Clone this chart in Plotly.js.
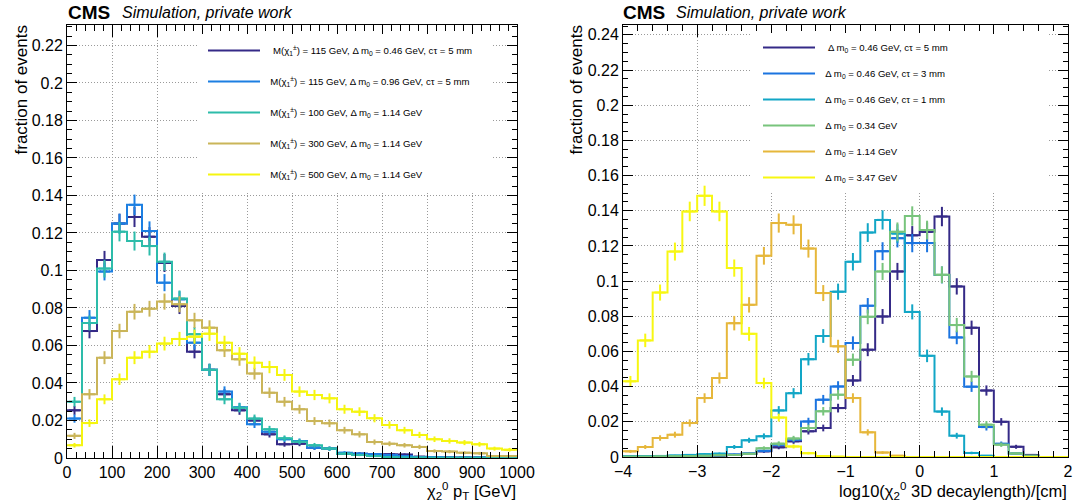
<!DOCTYPE html>
<html><head><meta charset="utf-8">
<script src="https://cdn.plot.ly/plotly-3.0.1.min.js"></script>
<style>html,body{margin:0;padding:0;background:#fff}#chart{width:1083px;height:504px}</style>
</head><body><div id="chart"></div>
<script>
// ---------- data: left panel (chi2^0 pT, 30 bins 0-1000 GeV) ----------
const ptMin = 0, ptMax = 1000, ptBins = 30;
const ptLabels = [
  "\u00a0\u00a0\u00a0M(χ<sub>1</sub><sup>±</sup>) = 115 GeV, Δ m<sub>0</sub> = 0.46 GeV, cτ = 5 mm",
  "\u00a0\u00a0M(χ<sub>1</sub><sup>±</sup>) = 115 GeV, Δ m<sub>0</sub> = 0.96 GeV, cτ = 5 mm",
  "\u00a0\u00a0M(χ<sub>1</sub><sup>±</sup>) = 100 GeV, Δ m<sub>0</sub> = 1.14 GeV",
  "\u00a0\u00a0M(χ<sub>1</sub><sup>±</sup>) = 300 GeV, Δ m<sub>0</sub> = 1.14 GeV",
  "\u00a0\u00a0M(χ<sub>1</sub><sup>±</sup>) = 500 GeV, Δ m<sub>0</sub> = 1.14 GeV"
];
const pt_m115_dm046 = [0.0254,0.0677,0.1056,0.125,0.1285,0.118,0.104,0.081,0.0567,0.047,0.034,0.0254,0.020,0.0126,0.0073,0.0076,0.0055,0.005,0.0023,0.0023,0.002,0.002,0.0018,0.0007,0.0004,0.0003,0.0002,0.0002,0.0001,0.0001];
const pt_m115_dm096 = [0.021,0.0748,0.0994,0.125,0.135,0.121,0.0935,0.0846,0.0615,0.047,0.0354,0.027,0.018,0.014,0.010,0.009,0.0055,0.005,0.0028,0.0023,0.002,0.0016,0.001,0.0005,0.0005,0.0003,0.0002,0.0002,0.0001,0.0001];
const pt_m100_dm114 = [0.030,0.072,0.101,0.1207,0.1157,0.113,0.1047,0.085,0.066,0.047,0.0313,0.0268,0.021,0.0153,0.0105,0.0087,0.0068,0.005,0.0023,0.0016,0.001,0.0005,0.0002,0.0002,0.0001,0.0001,0.0001,0.0001,0.0001,0.0001];
const pt_m300_dm114 = [0.0118,0.034,0.0535,0.0677,0.078,0.0796,0.0834,0.082,0.0734,0.0695,0.0574,0.0526,0.045,0.0348,0.030,0.026,0.0197,0.0185,0.0148,0.0126,0.0085,0.0076,0.0068,0.0059,0.0037,0.0034,0.0028,0.0025,0.001,0.001];
const pt_m500_dm114 = [0.0068,0.0186,0.0313,0.042,0.0535,0.0567,0.061,0.0635,0.0647,0.0663,0.0615,0.0556,0.0508,0.0485,0.0443,0.0354,0.0336,0.0318,0.026,0.0247,0.0212,0.0176,0.0148,0.0123,0.010,0.0091,0.0082,0.0073,0.005,0.0044];
const ptSeries = [pt_m115_dm046, pt_m115_dm096, pt_m100_dm114, pt_m300_dm114, pt_m500_dm114];

// ---------- data: right panel (log10 decay length, 30 bins -4..2) ----------
const dlMin = -4, dlMax = 2, dlBins = 30;
const dlLabels = [
  "\u00a0\u00a0\u00a0Δ m<sub>0</sub> = 0.46 GeV, cτ = 5 mm",
  "\u00a0\u00a0Δ m<sub>0</sub> = 0.46 GeV, cτ = 3 mm",
  "\u00a0\u00a0Δ m<sub>0</sub> = 0.46 GeV, cτ = 1 mm",
  "\u00a0\u00a0Δ m<sub>0</sub> = 0.34 GeV",
  "\u00a0\u00a0Δ m<sub>0</sub> = 1.14 GeV",
  "\u00a0\u00a0Δ m<sub>0</sub> = 3.47 GeV"
];
const dl_dm046_ct5 = [0.0002,0.0002,0.0003,0.0004,0.0005,0.0007,0.0008,0.0012,0.0018,0.0032,0.0055,0.0089,0.0146,0.0165,0.0278,0.0435,0.061,0.0799,0.1055,0.126,0.128,0.1367,0.097,0.0735,0.0378,0.020,0.0058,0.0012,0,0];
const dl_dm046_ct3 = [0.0002,0.0002,0.0003,0.0004,0.0006,0.0008,0.001,0.0014,0.002,0.0035,0.007,0.0098,0.0202,0.0326,0.0401,0.0648,0.086,0.117,0.1244,0.1216,0.1216,0.1035,0.068,0.040,0.017,0.0075,0.002,0.0006,0,0];
const dl_dm046_ct1 = [0.0004,0.0005,0.0006,0.0008,0.0012,0.0016,0.0019,0.0057,0.0095,0.0118,0.0265,0.0363,0.0556,0.0688,0.094,0.111,0.1276,0.1348,0.127,0.0825,0.0575,0.0258,0.0121,0.0023,0.0007,0,0,0,0,0];
const dl_dm034 = [0.0002,0.0002,0.0003,0.0004,0.0005,0.0007,0.001,0.0012,0.0018,0.005,0.0076,0.0105,0.0165,0.026,0.0354,0.0553,0.0797,0.1055,0.128,0.137,0.129,0.1036,0.075,0.0458,0.0184,0.007,0.002,0.0007,0,0];
const dl_dm114 = [0.0032,0.0057,0.0108,0.0127,0.0193,0.0335,0.0449,0.0761,0.0865,0.1144,0.133,0.132,0.1185,0.0932,0.0629,0.0335,0.014,0.0025,0.0007,0,0,0,0,0,0,0,0,0,0,0];
const dl_dm347 = [0.043,0.0663,0.0935,0.1168,0.1396,0.1485,0.1396,0.1074,0.070,0.042,0.0224,0.006,0.0022,0.0005,0.0002,0,0,0,0,0,0,0,0,0,0,0,0,0,0,0];
const dlSeries = [dl_dm046_ct5, dl_dm046_ct3, dl_dm046_ct1, dl_dm034, dl_dm114, dl_dm347];

// number of simulated events per sample (for statistical error bars sqrt(N)/N)
const nEvents = 4500;

// ---------- styles ----------
const FONT = 'Liberation Sans, Arial, Helvetica, sans-serif';
const ptColors = ['#352a87', '#1c7fe2', '#2dbcaa', '#cab559', '#f5f510'];
const dlColors = ['#352a87', '#1b74e0', '#12a6c6', '#78c47c', '#e6b73b', '#f7f712'];

function binEdges(min, max, n) { const w = (max - min) / n; const e = []; for (let i = 0; i <= n; i++) e.push(min + i * w); return e; }
function binCenters(min, max, n) { const w = (max - min) / n; const c = []; for (let i = 0; i < n; i++) c.push(min + (i + 0.5) * w); return c; }

function histTraces(vals, color, name, xmin, xmax, nb, xa, ya, legendId, idx) {
  const e = binEdges(xmin, xmax, nb), c = binCenters(xmin, xmax, nb);
  const step = {
    type: 'scatter', mode: 'lines', x: e, y: vals.concat([vals[vals.length - 1]]),
    line: { shape: 'hv', color: color, width: 2 }, name: name, xaxis: xa, yaxis: ya,
    legend: legendId, legendgroup: legendId + '_' + idx, hoverinfo: 'skip', cliponaxis: true
  };
  const errs = vals.map(v => Math.sqrt(v * nEvents) / nEvents);
  const err = {
    type: 'scatter', mode: 'markers', x: c, y: vals.map(v => v > 0 ? v : null),
    marker: { symbol: 'line-ew', size: 8, color: color, line: { color: color, width: 2 } },
    error_y: { type: 'data', array: errs, visible: true, thickness: 2, width: 0, color: color },
    xaxis: xa, yaxis: ya, showlegend: false, legend: legendId, legendgroup: legendId + '_' + idx, hoverinfo: 'skip'
  };
  return [step, err];
}

const traces = [];
ptSeries.forEach((s, i) => traces.push(...histTraces(s, ptColors[i], ptLabels[i], ptMin, ptMax, ptBins, 'x', 'y', 'legend', i)));
dlSeries.forEach((s, i) => traces.push(...histTraces(s, dlColors[i], dlLabels[i], dlMin, dlMax, dlBins, 'x2', 'y2', 'legend2', i)));

function axisStyle(extra) {
  return Object.assign({
    showline: true, linecolor: '#000', linewidth: 1, mirror: 'allticks',
    ticks: 'inside', tickcolor: '#000', tickwidth: 1,
    showgrid: true, gridcolor: '#9a9a9a', griddash: '1px,2px', gridwidth: 1,
    zeroline: false, fixedrange: true,
    tickfont: { family: FONT, size: 16, color: '#000' }
  }, extra);
}

const W = 1083, H = 504;
const layout = {
  width: W, height: H, margin: { l: 0, r: 0, t: 0, b: 0 },
  paper_bgcolor: '#fff', plot_bgcolor: 'rgba(0,0,0,0)',
  font: { family: FONT, color: '#000' },
  showlegend: true,
  xaxis: axisStyle({ domain: [67 / W, 517 / W], range: [ptMin, ptMax], anchor: 'y', tick0: 0, dtick: 100, ticklen: 12,
    minor: { ticks: 'inside', ticklen: 6, dtick: 20, tickcolor: '#000', showgrid: false } }),
  yaxis: axisStyle({ domain: [46 / H, 479 / H], range: [0, 0.2309], anchor: 'x', tick0: 0, dtick: 0.02, ticklen: 10,
    minor: { ticks: 'inside', ticklen: 5, dtick: 0.005, tickcolor: '#000', showgrid: false } }),
  xaxis2: axisStyle({ domain: [623 / W, 1068 / W], range: [dlMin, dlMax], anchor: 'y2', tick0: 0, dtick: 1, ticklen: 12,
    minor: { ticks: 'inside', ticklen: 6, dtick: 0.2, tickcolor: '#000', showgrid: false } }),
  yaxis2: axisStyle({ domain: [47 / H, 479 / H], range: [0, 0.2456], anchor: 'x2', tick0: 0, dtick: 0.02, ticklen: 10,
    minor: { ticks: 'inside', ticklen: 5, dtick: 0.005, tickcolor: '#000', showgrid: false } }),
  legend: { x: 203 / W, y: 1 - 36 / H, xanchor: 'left', yanchor: 'top', bgcolor: '#fff', borderwidth: 0,
    font: { family: FONT, size: 9.6, color: '#000' }, tracegroupgap: 12, itemwidth: 52, traceorder: 'grouped' },
  legend2: { x: 758 / W, y: 1 - 33 / H, xanchor: 'left', yanchor: 'top', bgcolor: '#fff', borderwidth: 0,
    font: { family: FONT, size: 9.6, color: '#000' }, tracegroupgap: 7, itemwidth: 52, traceorder: 'grouped' },
  shapes: [
    // white legend pads (hide the grid behind the legends, as in the original; no data lies there)
    { type: 'rect', xref: 'paper', yref: 'paper', x0: 197 / W, x1: 492 / W, y0: 1 - 192 / H, y1: 1 - 34 / H, layer: 'above', fillcolor: '#fff', line: { width: 0 } },
    { type: 'rect', xref: 'paper', yref: 'paper', x0: 752 / W, x1: 1047 / W, y0: 1 - 192 / H, y1: 1 - 34 / H, layer: 'above', fillcolor: '#fff', line: { width: 0 } }
  ],
  annotations: [
    { text: '<b>CMS</b>', xref: 'paper', yref: 'paper', x: 66 / W, y: 1 - 12 / H, xanchor: 'left', yanchor: 'middle', showarrow: false, font: { family: FONT, size: 19 } },
    { text: '<i>Simulation, private work</i>', xref: 'paper', yref: 'paper', x: 120 / W, y: 1 - 12.5 / H, xanchor: 'left', yanchor: 'middle', showarrow: false, font: { family: FONT, size: 16 } },
    { text: '<b>CMS</b>', xref: 'paper', yref: 'paper', x: 621 / W, y: 1 - 12 / H, xanchor: 'left', yanchor: 'middle', showarrow: false, font: { family: FONT, size: 19 } },
    { text: '<i>Simulation, private work</i>', xref: 'paper', yref: 'paper', x: 674 / W, y: 1 - 12.5 / H, xanchor: 'left', yanchor: 'middle', showarrow: false, font: { family: FONT, size: 16 } },
    { text: 'fraction of events', xref: 'paper', yref: 'paper', x: 21 / W, y: 1 - 24 / H, xanchor: 'center', yanchor: 'top', textangle: -90, showarrow: false, font: { family: FONT, size: 17 } },
    { text: 'fraction of events', xref: 'paper', yref: 'paper', x: 576 / W, y: 1 - 24 / H, xanchor: 'center', yanchor: 'top', textangle: -90, showarrow: false, font: { family: FONT, size: 17 } },
    { text: 'χ<sub>2</sub><sup>0</sup> p<sub>T</sub> [GeV]', xref: 'paper', yref: 'paper', x: 518 / W, y: 1 - 504 / H, xanchor: 'right', yanchor: 'bottom', showarrow: false, font: { family: FONT, size: 16.5 } },
    { text: 'log10(χ<sub>2</sub><sup>0</sup> 3D decaylength)/[cm]', xref: 'paper', yref: 'paper', x: 1069 / W, y: 1 - 504 / H, xanchor: 'right', yanchor: 'bottom', showarrow: false, font: { family: FONT, size: 16.5 } }
  ]
};

Plotly.newPlot('chart', traces, layout, { staticPlot: true, displayModeBar: false });
</script>
</body></html>
